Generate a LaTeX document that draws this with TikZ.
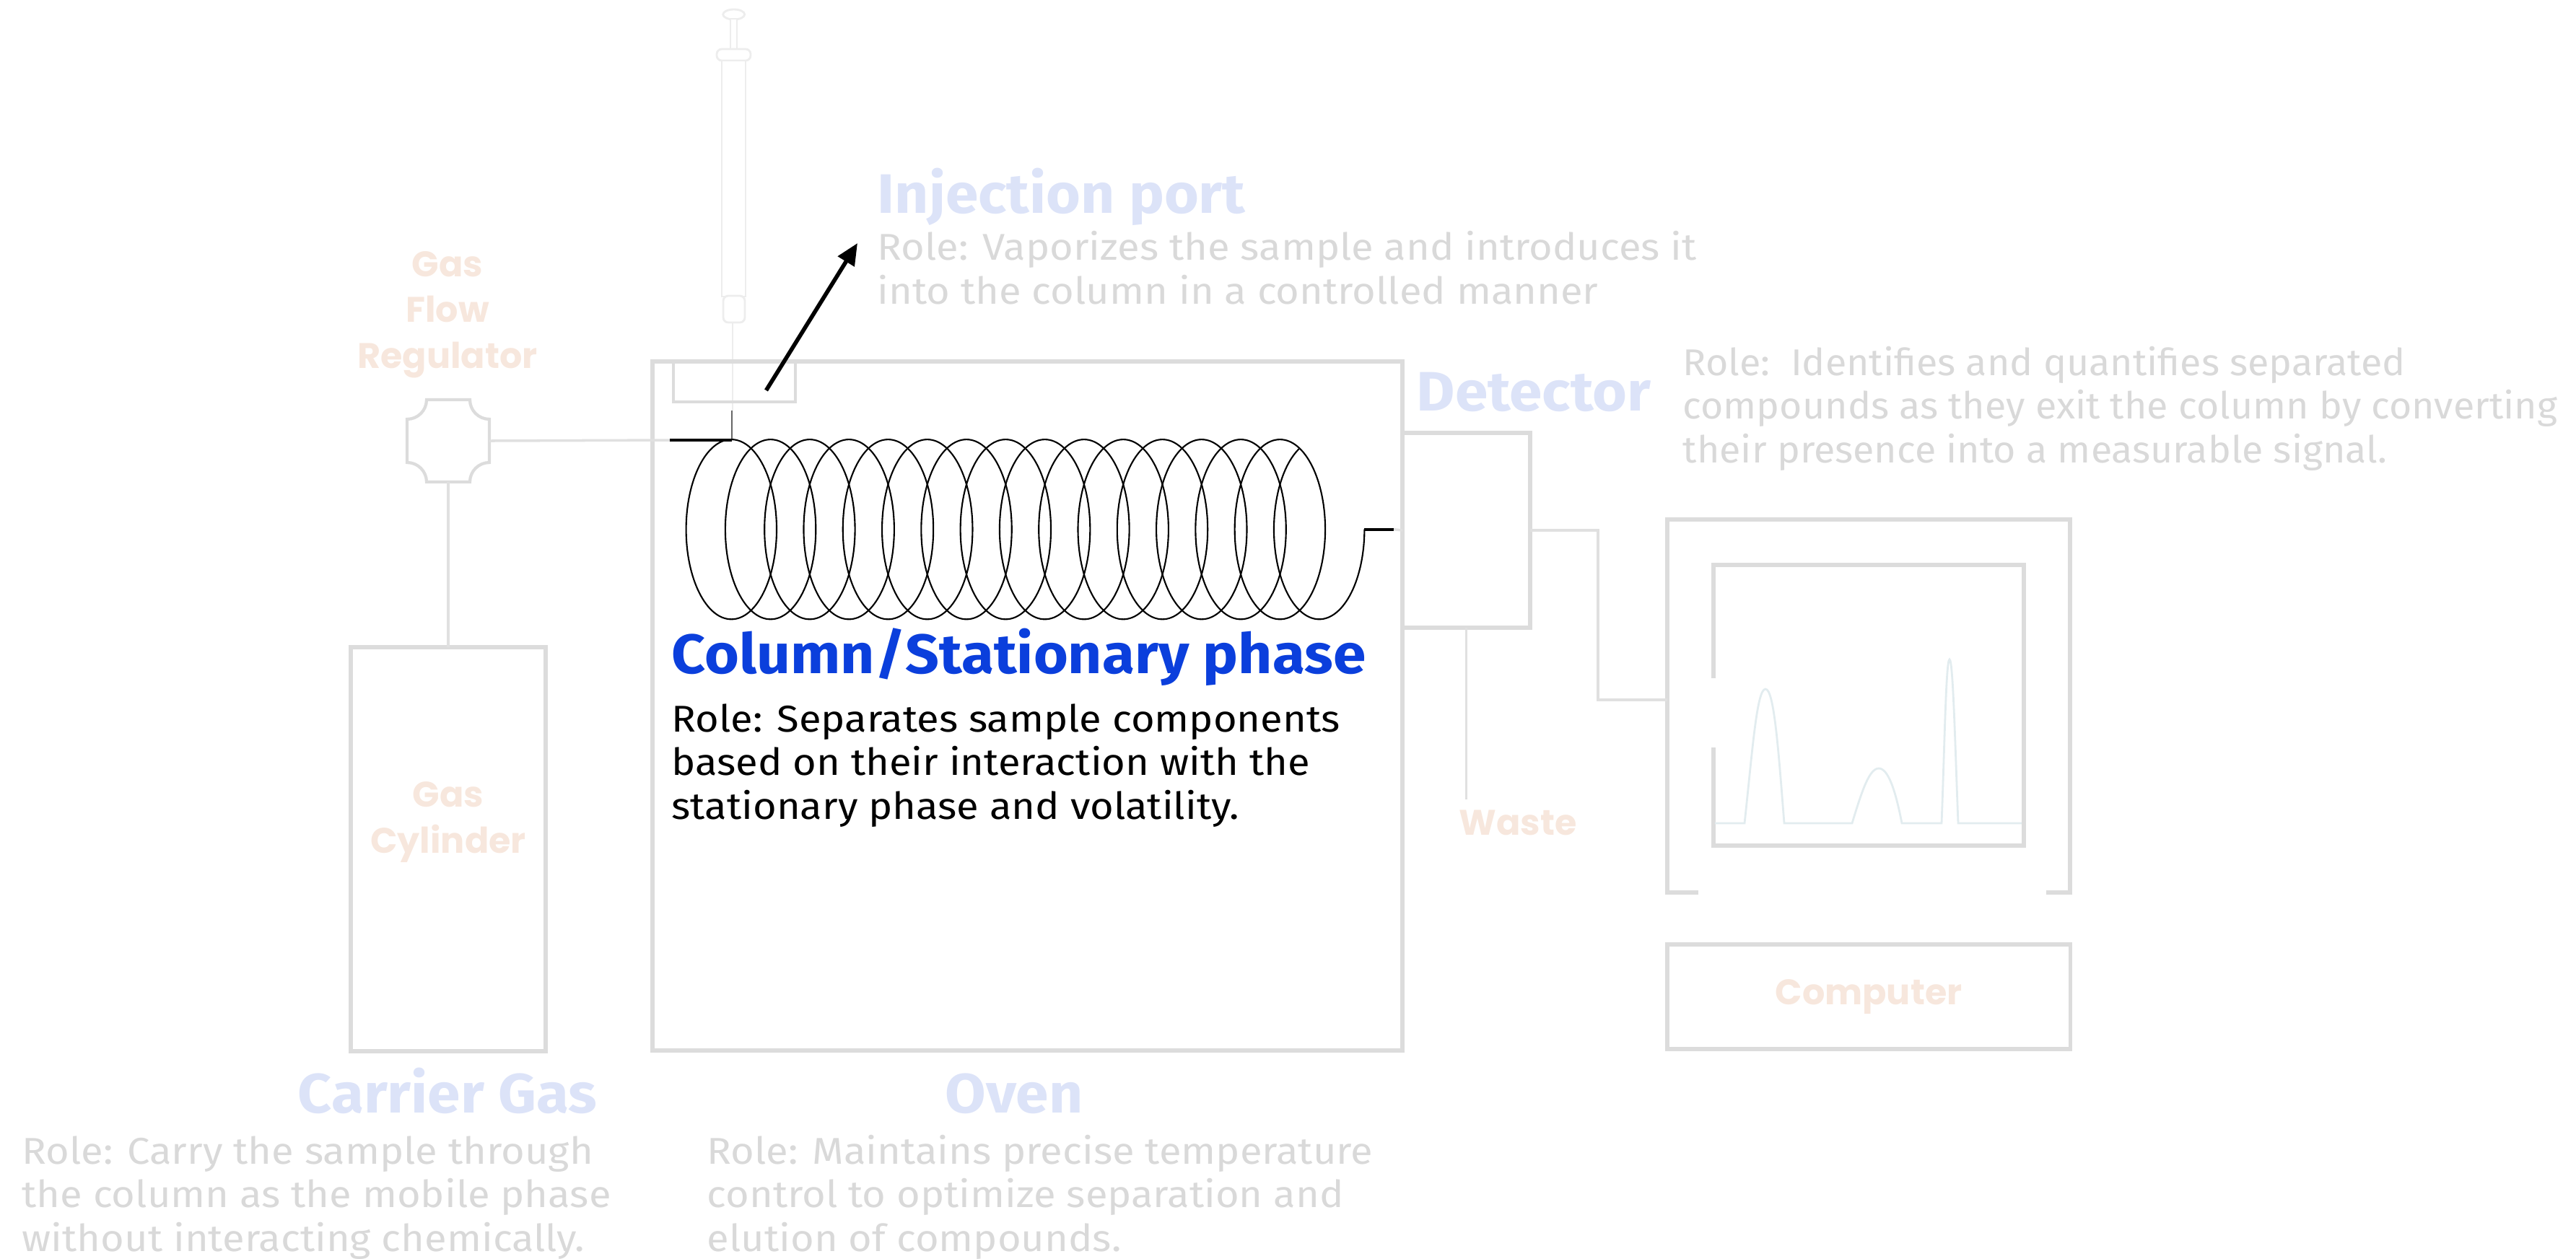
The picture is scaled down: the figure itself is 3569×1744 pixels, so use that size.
\documentclass[tikz,border=0pt]{standalone}
\usepackage{fontspec}
\setmainfont{Fira Sans}
\newfontfamily\titlefont{Fira Sans}[FakeStretch=1.065]
\newfontfamily\rolefont{Fira Sans}[FakeStretch=1.085]
\newfontfamily\narrowrolefont{Fira Sans}[FakeStretch=1.04]
\newfontfamily\partfont{Poppins}
\usetikzlibrary{arrows.meta,calc,positioning}
\definecolor{framegray}{HTML}{DCDCDC}
\definecolor{pipegray}{HTML}{E0E0E0}
\definecolor{captiongray}{HTML}{D9D9D9}
\definecolor{titlelavender}{HTML}{DCE3F8}
\definecolor{partpeach}{HTML}{F7E7DD}
\definecolor{columnblue}{HTML}{0B3FDC}
\definecolor{tracecolor}{HTML}{E2ECEF}
\definecolor{syringegray}{HTML}{EDEDED}
\tikzset{
  unit box/.style={draw=framegray, line width=1.7pt, inner sep=0pt, outer sep=0pt},
  pipe/.style={draw=pipegray, line width=1pt},
  coil line/.style={draw=black, line width=0.6pt},
  syringe part/.style={draw=syringegray, fill=white, line width=0.8pt},
  part label/.style={
      font=\partfont\bfseries\fontsize{14}{18}\selectfont,
      text=partpeach, align=center, inner sep=0pt
    },
  unit title/.style={
      font=\titlefont\bfseries\fontsize{21.9}{26}\selectfont,
      text=titlelavender, inner sep=0pt
    },
  role text/.style={
      font=\rolefont\fontsize{14.7}{17.2}\selectfont,
      text=captiongray, align=left, inner sep=0pt
    },
  pointer arrow/.style={
      line width=1.6pt,
        -{Triangle[length=3mm,width=2.6mm]}
    }
}

\begin{document}
\begin{tikzpicture}[x=0.01cm, y=-0.01cm]
  \useasboundingbox (0,0) rectangle (3569,1744);

  % ------------------------------------------------------------------
  % Syringe above the injection port.
  % ------------------------------------------------------------------
  \draw[syringe part] (1016.7,20) ellipse[x radius=15, y radius=7];
  \draw[syringe part] (1012,26) rectangle (1021,70);
  \draw[syringe part, rounded corners=2pt] (993,68) rectangle (1040,84);
  \draw[syringe part] (1000,84) rectangle (1033,411);
  \draw[syringe part, rounded corners=2pt] (1002,410) rectangle (1032,447);
  \draw[draw=syringegray, line width=0.6pt] (1015,447) -- (1015,569);
  \draw[draw=black!60, line width=0.6pt] (1014,569) -- (1014,610);

  % ------------------------------------------------------------------
  % Main units.
  % ------------------------------------------------------------------
  \node[unit box, minimum width=10.39cm, minimum height=9.55cm]
  (oven) at (1423.5,978.5) {};
  \node[unit box, line width=1.2pt, minimum width=1.69cm, minimum height=0.56cm]
  (port) at (1017.5,529) {};
  \node[unit box, minimum width=2.70cm, minimum height=5.60cm]
  (cylinder) at (621,1177) {};
  \node[unit box, minimum width=1.77cm, minimum height=2.70cm]
  (detector) at (2031.5,735) {};
  \node[unit box, line width=1.5pt, minimum width=5.58cm, minimum height=1.45cm]
  (computer) at (2589,1381.5) {};

  % flow regulator with hollow corners
  \node[minimum size=1.14cm, inner sep=0pt, outer sep=0pt] (regulator) at (621,611) {};
  \draw[draw=framegray, line width=1.2pt]
  (591,554) -- (651,554) arc[start angle=180, end angle=90, radius=27]
  -- (678,641) arc[start angle=270, end angle=180, radius=27]
  -- (591,668) arc[start angle=0, end angle=-90, radius=27]
  -- (564,581) arc[start angle=90, end angle=0, radius=27] -- cycle;

  % monitor frame, open at the bottom, and its screen
  \draw[draw=framegray, line width=1.7pt]
  (2353,1237) -- (2310,1237) -- (2310,720) -- (2868,720) -- (2868,1237) -- (2835,1237);
  \draw[draw=framegray, line width=1.5pt]
  (2374,940) -- (2374,783) -- (2804,783) -- (2804,1172) -- (2374,1172) -- (2374,1036);
  \coordinate (monitor in) at (2310,970);

  % chromatogram trace
  \draw[draw=tracecolor, line width=0.8pt]
  (2376,1141) -- (2417,1141)
  .. controls (2428,1040) and (2434,955) .. (2446,955)
  .. controls (2458,955) and (2464,1040) .. (2472,1141)
  -- (2566,1141)
  .. controls (2580,1095) and (2590,1065) .. (2603,1065)
  .. controls (2616,1065) and (2626,1095) .. (2635,1141)
  -- (2690,1141)
  .. controls (2694,1040) and (2696,914) .. (2701,914)
  .. controls (2706,914) and (2709,1040) .. (2713,1141)
  -- (2801,1141);

  % ------------------------------------------------------------------
  % Gas lines and the coiled column.
  % ------------------------------------------------------------------
  \coordinate (inlet) at (928,610);
  \coordinate (outlet) at (1890.3,733.7);
  \coordinate (waste end) at (2031.5,1108);

  \draw[pipe] (regulator.east) -- (inlet);
  \draw[pipe] (regulator.south) -- (cylinder.north);
  \draw[draw=black, line width=1.1pt] (inlet) -- (1014,610);

  \foreach \k in {0,...,14}
  \draw[coil line] (1013.3+54.29*\k,733.7) ellipse[x radius=62.7, y radius=124.6];
  \draw[coil line] (1800.5,621.4)
  arc[start angle=244.3, end angle=0, x radius=62.7, y radius=124.6];

  \draw[draw=black, line width=1.1pt] (outlet) -- (1931,733.7);
  \draw[pipe] (1931,733.7) -- (detector.west);
  \draw[pipe] (detector.east) -- ++(94,0) |- (monitor in);
  \draw[pipe] (detector.south) -- (waste end);

  % ------------------------------------------------------------------
  % Labels (multi-line nodes sit on the baseline of their last line).
  % ------------------------------------------------------------------
  \node[part label, anchor=base] (regulator label) at (620,510) {Gas\\Flow\\Regulator};
  \node[part label, anchor=base] (cylinder label) at (621,1182) {Gas\\Cylinder};
  \node[part label, anchor=base] (waste label) at (2103,1157) {Waste};
  \node[part label, anchor=base] (computer label) at (2589,1392) {Computer};

  \node[unit title, anchor=base west] (port title) at (1215,295) {Injection port};
  \node[role text, anchor=base west] (port role) at (1215,421)
  {Role: Vaporizes the sample and introduces it\\into the column in a controlled manner};

  \draw[pointer arrow] ($(port.center)+(44,12)$) -- ($(port role.base west)+(-27,-84)$);

  \node[unit title, anchor=base west] (detector title) at (1962,569) {Detector};
  \node[role text, anchor=base west, font=\narrowrolefont\fontsize{14.7}{17.2}\selectfont]
  (detector role) at (2331,641)
  {Role:\ \ Identifies and quantifies separated\\compounds as they exit the column by converting\\their presence into a measurable signal.};

  \node[unit title, anchor=base west, text=columnblue] (column title) at (930,933)
  {Column/Stationary phase};
  \node[role text, anchor=base west, text=black] (column role) at (930,1135)
  {Role: Separates sample components\\based on their interaction with the\\stationary phase and volatility.};

  \node[unit title, anchor=base] (carrier title) at (620,1542) {Carrier Gas};
  \node[role text, anchor=base west] (carrier role) at (30,1734)
  {Role: Carry the sample through\\the column as the mobile phase\\without interacting chemically.};

  \node[unit title, anchor=base] (oven title) at (1405,1542) {Oven};
  \node[role text, anchor=base west] (oven role) at (979,1734)
  {Role: Maintains precise temperature\\control to optimize separation and\\elution of compounds.};

\end{tikzpicture}
\end{document}
